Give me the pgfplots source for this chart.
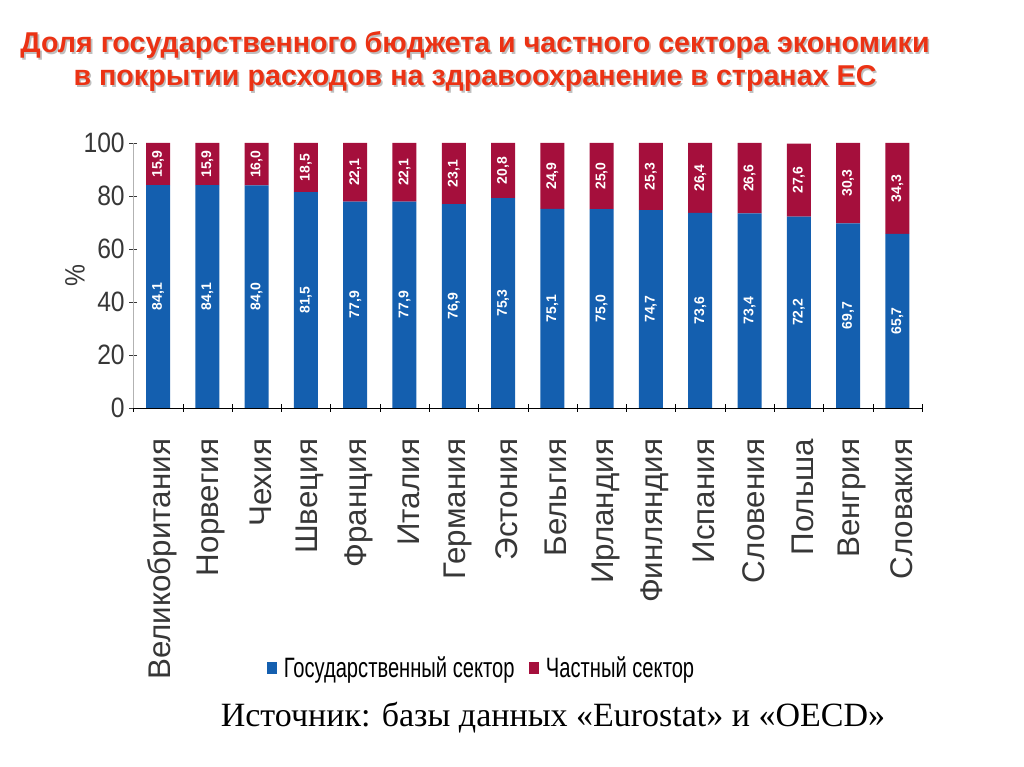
\documentclass[border=0pt]{standalone}
\usepackage{fontspec}
\setmainfont{Liberation Sans}
\newfontfamily\tickfont[FakeStretch=0.88]{Liberation Sans}
\newfontfamily\legfont[FakeStretch=0.72]{Liberation Sans}
\newfontfamily\serif{Liberation Serif}
\usepackage{pgfplots}
\usepackage{pgfplotstable}
\pgfplotsset{compat=1.18}

\definecolor{govblue}{RGB}{20,95,175}
\definecolor{privred}{RGB}{165,15,60}
\definecolor{titlered}{RGB}{235,50,20}
\definecolor{labelgray}{RGB}{55,55,55}

% gov = height of the blue bar, govlab = its printed value
\pgfplotstableread{
x  gov   priv  govlab
0  84.1  15.9  84.1
1  84.1  15.9  84.1
2  84.0  16.0  84.0
3  81.5  18.5  81.5
4  77.9  22.1  77.9
5  77.9  22.1  77.9
6  76.9  23.1  76.9
7  79.2  20.8  75.3
8  75.1  24.9  75.1
9  75.0  25.0  75.0
10 74.7  25.3  74.7
11 73.6  26.4  73.6
12 73.4  26.6  73.4
13 72.2  27.6  72.2
14 69.7  30.3  69.7
15 65.7  34.3  65.7
}\shares

\pgfplotsset{
  geom/.style={
    at={(100.05pt,269.25pt)}, anchor=south west,
    scale only axis,
    width=591.45pt, height=198.75pt,
    xmin=-0.5, xmax=15.5,
    ymin=0, ymax=100,
  }
}

\begin{document}
\begin{tikzpicture}
\path[use as bounding box] (0,0) rectangle (768pt,575.25pt);

% title with a soft shadow
\node[text=gray!50, font=\bfseries\fontsize{21.5}{24.75}\selectfont, align=center]
  at (357.5pt,527.8pt) {Доля государственного бюджета и частного сектора экономики\\
  в покрытии расходов на здравоохранение в странах ЕС};
\node[text=titlered, font=\bfseries\fontsize{21.5}{24.75}\selectfont, align=center]
  at (356.25pt,529.1pt) {Доля государственного бюджета и частного сектора экономики\\
  в покрытии расходов на здравоохранение в странах ЕС};

\begin{axis}[
    geom,
    ybar stacked, bar width=18pt,
    ytick={0,20,...,100},
    xtick={0,...,15},
    xticklabels={Великобритания,Норвегия,Чехия,Швеция,Франция,Италия,Германия,
      Эстония,Бельгия,Ирландия,Финляндия,Испания,Словения,Польша,Венгрия,Словакия},
    minor xtick={-0.5,0.5,...,15.5},
    major x tick style={draw=none},
    minor x tick style={black},
    minor tick length=6pt,
    major tick length=6pt,
    tick align=outside,
    axis x line=bottom, axis y line=left,
    x axis line style={black,-},
    y axis line style={gray!60,-},
    y tick style={labelgray},
    /pgf/number format/assume math mode=true,
    yticklabel style={font=\tickfont\fontsize{21}{21}\selectfont, text=labelgray},
    xticklabel style={xshift=3pt, rotate=90, anchor=east, inner sep=0pt,
      font=\fontsize{23.5}{23.5}\selectfont, text=labelgray},
    xticklabel shift=20pt,
    ylabel={\%},
    ylabel style={at={(axis description cs:-0.074,0.5)}, anchor=center,
      font=\tickfont\fontsize{21}{21}\selectfont, text=labelgray},
    legend style={at={(axis description cs:0.442,-0.981)}, anchor=center,
      draw=none, fill=none, legend columns=2,
      font=\legfont\fontsize{21}{21}\selectfont,
      /tikz/every odd column/.append style={column sep=3pt},
      /tikz/every even column/.append style={column sep=9pt}},
    legend image code/.code={\fill[#1] (0pt,-4.5pt) rectangle (7.5pt,4.5pt);},
]
\addplot[fill=govblue, draw=none] table[x=x, y=gov] {\shares};
\addlegendentry{Государственный сектор}
\addplot[fill=privred, draw=none] table[x=x, y=priv] {\shares};
\addlegendentry{Частный сектор}
\end{axis}

% value labels, centred in each segment
\begin{axis}[
    geom, hide axis,
    point meta=explicit,
    nodes near coords={\pgfmathprintnumber[fixed,fixed zerofill,precision=1,use comma,assume math mode=true]{\pgfplotspointmeta}},
    nodes near coords align=center,
    every node near coord/.append style={rotate=90, anchor=center, inner sep=0pt,
      text=white, font=\bfseries\fontsize{10.5}{10.5}\selectfont},
]
\addplot[only marks, mark=none] table[x=x, y expr=\thisrow{gov}/2, meta=govlab] {\shares};
\addplot[only marks, mark=none] table[x=x, y expr=\thisrow{gov}+\thisrow{priv}/2, meta=priv] {\shares};
\end{axis}

\node[font=\serif\fontsize{25.5}{25.5}\selectfont] at (414.75pt,36.75pt)
  {Источник: базы данных «Eurostat» и «OECD»};
\end{tikzpicture}
\end{document}
